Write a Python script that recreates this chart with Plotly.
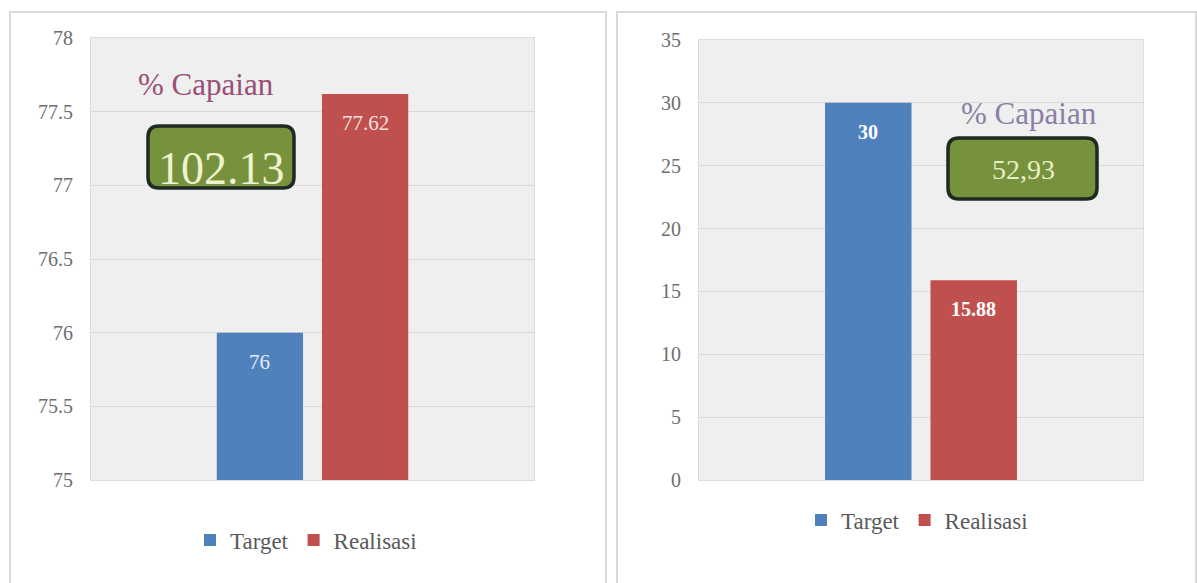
import plotly.graph_objects as go
from plotly.subplots import make_subplots

# ---- data ----
series_names = ["Target", "Realisasi"]
left_values = [76, 77.62]
left_labels = ["76", "77.62"]
right_values = [30, 15.88]
right_labels = ["30", "15.88"]
capaian_labels = ["102.13", "52,93"]
capaian_title = "% Capaian"
left_ticks = [75, 75.5, 76, 76.5, 77, 77.5, 78]
right_ticks = [0, 5, 10, 15, 20, 25, 30, 35]

colors = ["#4f81bd", "#c0504d"]
FONT = "Liberation Serif, Times New Roman, serif"
W, H = 1197, 583
BARGAP = 0.525
GROUPGAP = 0.18

def px(x):
    return x / W

def py(y):
    return 1 - y / H

fig = make_subplots(rows=1, cols=2)

for i, name in enumerate(series_names):
    fig.add_trace(go.Bar(x=[0], y=[left_values[i]], name=name,
                         marker=dict(color=colors[i], line=dict(width=0)),
                         legend="legend", hoverinfo="skip"), row=1, col=1)
for i, name in enumerate(series_names):
    fig.add_trace(go.Bar(x=[0], y=[right_values[i]], name=name,
                         marker=dict(color=colors[i], line=dict(width=0)),
                         legend="legend2", hoverinfo="skip"), row=1, col=2)

# bar labels: centred on each grouped bar
slot = (1 - BARGAP) / 2
offsets = [-slot / 2, slot / 2]
left_lbl_colors = ["#e2ebf6", "#f6e0e0"]
for i in range(2):
    fig.add_annotation(x=offsets[i], y=left_values[i], xref="x", yref="y",
                       text=left_labels[i], showarrow=False, yshift=-29,
                       xanchor="center", yanchor="middle",
                       font=dict(family=FONT, size=21, color=left_lbl_colors[i]))
    fig.add_annotation(x=offsets[i], y=right_values[i], xref="x2", yref="y2",
                       text="<b>" + right_labels[i] + "</b>", showarrow=False, yshift=-29,
                       xanchor="center", yanchor="middle",
                       font=dict(family=FONT, size=20, color="#ffffff"))

axis_common = dict(showgrid=False, showline=True, linecolor="#dcdcdc", mirror=True,
                   zeroline=False, showticklabels=False, ticks="", range=[-0.5, 0.5],
                   type="linear", automargin=False)
fig.update_xaxes(domain=[px(91), px(534)], row=1, col=1, **axis_common)
fig.update_xaxes(domain=[px(699), px(1143)], row=1, col=2, **axis_common)

yaxis_common = dict(showgrid=True, gridcolor="#d9d9d9", gridwidth=1.2,
                    showline=True, linecolor="#dcdcdc", mirror=True, zeroline=False,
                    ticklabelstandoff=13, automargin=False,
                    tickfont=dict(family=FONT, size=20, color="#6e6e6e"))
fig.update_yaxes(domain=[py(480), py(38)], range=[75, 78], tickvals=left_ticks,
                 ticktext=[("%g" % t) for t in left_ticks], row=1, col=1, **yaxis_common)
fig.update_yaxes(domain=[py(480), py(40)], range=[0, 35], tickvals=right_ticks,
                 ticktext=[("%g" % t) for t in right_ticks], row=1, col=2, **yaxis_common)

fig.update_layout(
    width=W, height=H,
    margin=dict(l=0, r=0, t=0, b=0, pad=0, autoexpand=False),
    paper_bgcolor="#ffffff",
    plot_bgcolor="#efefef",
    barmode="group",
    bargap=BARGAP,
    bargroupgap=GROUPGAP,
    showlegend=True,
    hovermode=False,
    legend=dict(orientation="h", x=px(306), y=py(540), xanchor="center", yanchor="middle",
                font=dict(family=FONT, size=23, color="#595959"),
                bgcolor="rgba(0,0,0,0)", itemclick=False, itemdoubleclick=False),
    legend2=dict(orientation="h", x=px(917), y=py(520), xanchor="center", yanchor="middle",
                 font=dict(family=FONT, size=23, color="#595959"),
                 bgcolor="rgba(0,0,0,0)", itemclick=False, itemdoubleclick=False),
)

def rounded_rect(x0, y0, x1, y1, r):
    X0, X1 = px(x0), px(x1)
    Y0, Y1 = py(y1), py(y0)
    rx, ry = r / W, r / H
    return (f"M {X0+rx},{Y0} L {X1-rx},{Y0} Q {X1},{Y0} {X1},{Y0+ry} "
            f"L {X1},{Y1-ry} Q {X1},{Y1} {X1-rx},{Y1} L {X0+rx},{Y1} "
            f"Q {X0},{Y1} {X0},{Y1-ry} L {X0},{Y0+ry} Q {X0},{Y0} {X0+rx},{Y0} Z")

shapes = [
    # panel frames
    dict(type="rect", xref="paper", yref="paper", x0=px(10), x1=px(606), y0=-0.05, y1=py(12),
         line=dict(color="#dadada", width=2), fillcolor="rgba(0,0,0,0)", layer="below"),
    dict(type="rect", xref="paper", yref="paper", x0=px(617), x1=px(1196), y0=-0.05, y1=py(12),
         line=dict(color="#dadada", width=2), fillcolor="rgba(0,0,0,0)", layer="below"),
    # green boxes
    dict(type="path", xref="paper", yref="paper", path=rounded_rect(148, 126, 294, 188, 11),
         fillcolor="#76923c", line=dict(color="#1e2b22", width=3.5), layer="above"),
    dict(type="path", xref="paper", yref="paper", path=rounded_rect(948, 138, 1097, 199, 11),
         fillcolor="#76923c", line=dict(color="#1e2b22", width=3.5), layer="above"),
]
fig.update_layout(shapes=shapes)

fig.add_annotation(xref="paper", yref="paper", x=px(206), y=py(84), text=capaian_title,
                   xanchor="center", yanchor="middle",
                   showarrow=False, font=dict(family=FONT, size=31, color="#9b4f76"))
fig.add_annotation(xref="paper", yref="paper", x=px(1029), y=py(114), text=capaian_title,
                   xanchor="center", yanchor="middle",
                   showarrow=False, font=dict(family=FONT, size=31, color="#8a80a6"))
fig.add_annotation(xref="paper", yref="paper", x=px(221), y=py(168), text=capaian_labels[0],
                   xanchor="center", yanchor="middle",
                   showarrow=False, font=dict(family=FONT, size=46, color="#eef3cf"))
fig.add_annotation(xref="paper", yref="paper", x=px(1023), y=py(169), text=capaian_labels[1],
                   xanchor="center", yanchor="middle",
                   showarrow=False, font=dict(family=FONT, size=28, color="#e8efc4"))

fig.write_html("out.html", config={"displayModeBar": False},
               post_script="document.body.style.margin='0';document.body.style.overflow='hidden';")
